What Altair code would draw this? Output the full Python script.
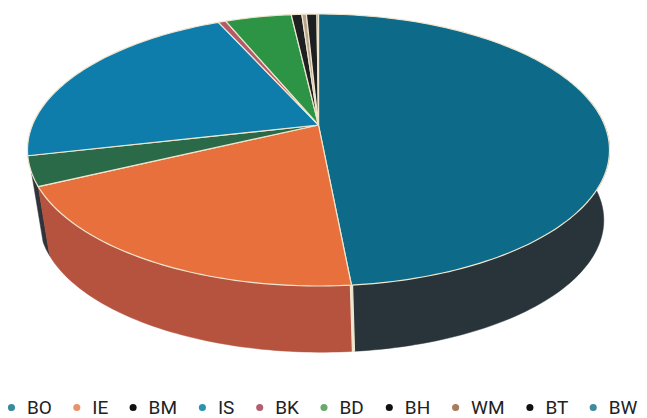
import math
import altair as alt
import pandas as pd

categories = ["BO", "IE", "BM", "IS", "BK", "BD", "BH", "WM", "BT", "BW"]
shares = [48.5, 19.4, 3.5, 21.9, 0.5, 4.4, 0.7, 0.3, 0.7, 0.1]
face_colors = ["#0d6a88", "#e8703c", "#2b6a48", "#0f7dab", "#b5596a", "#2e9445", "#1d1f20", "#b9a48c", "#1d1f20", "#1a6e86"]
legend_colors = ["#3b8a9c", "#e8946a", "#111111", "#2a93b0", "#b35f70", "#6aa86f", "#111111", "#a87a5e", "#111111", "#3f8a9c"]
wall_colors = {"BO": "#28343a", "IE": "#b5533f", "BM": "#30343a"}
edge = "#efe6cf"

# perspective view of the disc
APEX_X, APEX_Y, TOP_Y, BOTTOM_Y, HALF_W = 318.5, 125.0, 14.0, 286.0, 291.0
a = (2 * APEX_Y - TOP_Y - BOTTOM_Y) / (TOP_Y - BOTTOM_Y)
b = TOP_Y * (1 + a) - APEX_Y
d = HALF_W * math.sqrt(1 - a * a)
DROP_X, DROP_Y, SHRINK = 3.0, 71.0, 0.97


def rim(frac, lower=False):
    t = 2 * math.pi * frac
    u, v = math.sin(t), math.cos(t)
    x = APEX_X + d * u / (1 + a * v)
    y = (b * v + APEX_Y) / (1 + a * v)
    if lower:
        x = APEX_X + DROP_X + (x - APEX_X) * SHRINK
        y = APEX_Y + DROP_Y + (y - APEX_Y) * SHRINK
    return x, y


def arc(f0, f1, lower=False):
    n = max(2, int((f1 - f0) * 300))
    return [rim(f0 + (f1 - f0) * i / n, lower) for i in range(n + 1)]


def poly(points, fill, stroke, width):
    pts = points + [points[0]]
    df = pd.DataFrame({"x": [p[0] for p in pts], "y": [p[1] for p in pts], "i": range(len(pts))})
    return alt.Chart(df).mark_line(fill=fill, stroke=stroke, strokeWidth=width, strokeJoin="round", interpolate="linear").encode(
        x=alt.X("x:Q", scale=alt.Scale(domain=[8, 639], nice=False, zero=False), axis=None),
        y=alt.Y("y:Q", scale=alt.Scale(domain=[418, 8], nice=False, zero=False), axis=None),
        order="i:Q",
    )


bounds = [0]
for s in shares:
    bounds.append(bounds[-1] + s / sum(shares))

layers = []
# side wall, BM sliver first, then BO and IE
for name, f0, f1 in [("BM", bounds[2], bounds[2] + 0.016), ("BO", bounds[0] + 0.21, bounds[1]), ("IE", bounds[1], bounds[2])]:
    layers.append(poly(arc(f0, f1) + arc(f0, f1, True)[::-1], wall_colors[name], wall_colors[name], 0.5))
layers.append(poly(arc(bounds[1] - 0.0005, bounds[1] + 0.0005) + arc(bounds[1] - 0.0005, bounds[1] + 0.0005, True)[::-1], edge, edge, 1.2))
# top face
for i, c in enumerate(categories):
    layers.append(poly([(APEX_X, APEX_Y)] + arc(bounds[i], bounds[i + 1]), face_colors[i], edge, 1.2))

legend_df = pd.DataFrame({"cat": categories})
legend_layer = alt.Chart(legend_df).mark_point(filled=True, opacity=0).encode(
    fill=alt.Fill("cat:N", scale=alt.Scale(domain=categories, range=legend_colors), legend=alt.Legend(
        title=None, orient="none", legendX=-6, legendY=390, direction="horizontal", columns=10, gridAlign="none",
        labelFont="Roboto", labelFontSize=19, labelColor="#222222", symbolSize=50, symbolType="circle",
        columnPadding=15.3, labelOffset=6, symbolOpacity=1, symbolStrokeWidth=0, labelLimit=60)),
    x=alt.value(-100),
    y=alt.value(-100),
)

chart = alt.layer(*layers, legend_layer).properties(
    width=631, height=410, padding=0, background="white",
    autosize=alt.AutoSizeParams(type="none"),
).configure_view(stroke=None)

chart.save("out.html", embed_options={"renderer": "svg", "actions": False})
